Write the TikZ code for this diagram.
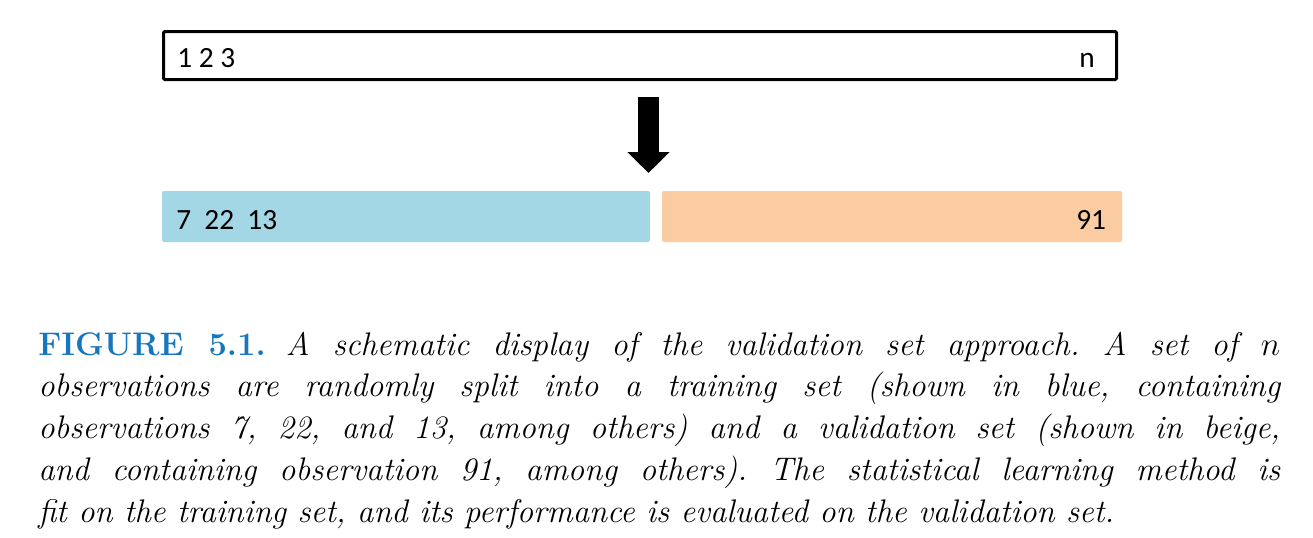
\documentclass[tikz,border=0pt]{standalone}
\usepackage{fontspec}
\newfontfamily\labelfont{Carlito}
\usetikzlibrary{arrows.meta}
\definecolor{trainblue}{RGB}{164,215,229}
\definecolor{validbeige}{RGB}{251,203,161}
\definecolor{figblue}{RGB}{22,118,190}
\tikzset{
  setbox/.style={minimum height=38.25pt, inner sep=0pt, rounded corners=1.5pt},
  obslabel/.style={anchor=base west, inner sep=0pt, font=\labelfont\fontsize{22}{26}\selectfont}
}
\begin{document}
\begin{tikzpicture}[x=0.75pt, y=-0.75pt]
        \useasboundingbox (0,0) rectangle (1313,537);
        \node [setbox, draw, line width=2.25pt, minimum width=714.75pt, minimum height=36pt, rounded corners=1pt] (all) at (640,55.5) {};
        \node [obslabel] (first) at (177,67) {1 2 3};
        \node [obslabel] (last) at (1079,67) {n};
        \coordinate (top) at (648.5,97);
        \coordinate (tip) at (648.5,173);
        \draw [line width=15.75pt, -{Triangle[length=15.75pt, width=30.75pt]}] (top) -- (tip);
        \node [setbox, fill=trainblue, minimum width=366pt] (train) at (406,216.5) {};
        \node [setbox, fill=validbeige, minimum width=345pt] (valid) at (892,216.5) {};
        \node [obslabel] (trainobs) at (176,229) {7\ \ 22\ \ 13};
        \node [obslabel] (validobs) at (1076,229) {91};
        \node [anchor=base west, inner sep=0pt, text width=931.5pt, align=justify,
               font=\fontsize{24.5}{31.35}\selectfont\frenchspacing] (caption) at (38,355)
          {\textcolor{figblue}{\textbf{FIGURE 5.1.}} \itshape A schematic display of the validation set approach. A set of $n$\linebreak
           observations are randomly split into a training set (shown in blue, containing\linebreak
           observations 7, 22, and 13, among others) and a validation set (shown in beige,\linebreak
           and containing observation 91, among others). The statistical learning method is\linebreak
           fit on the training set, and its performance is evaluated on the validation set.};
\end{tikzpicture}
\end{document}
